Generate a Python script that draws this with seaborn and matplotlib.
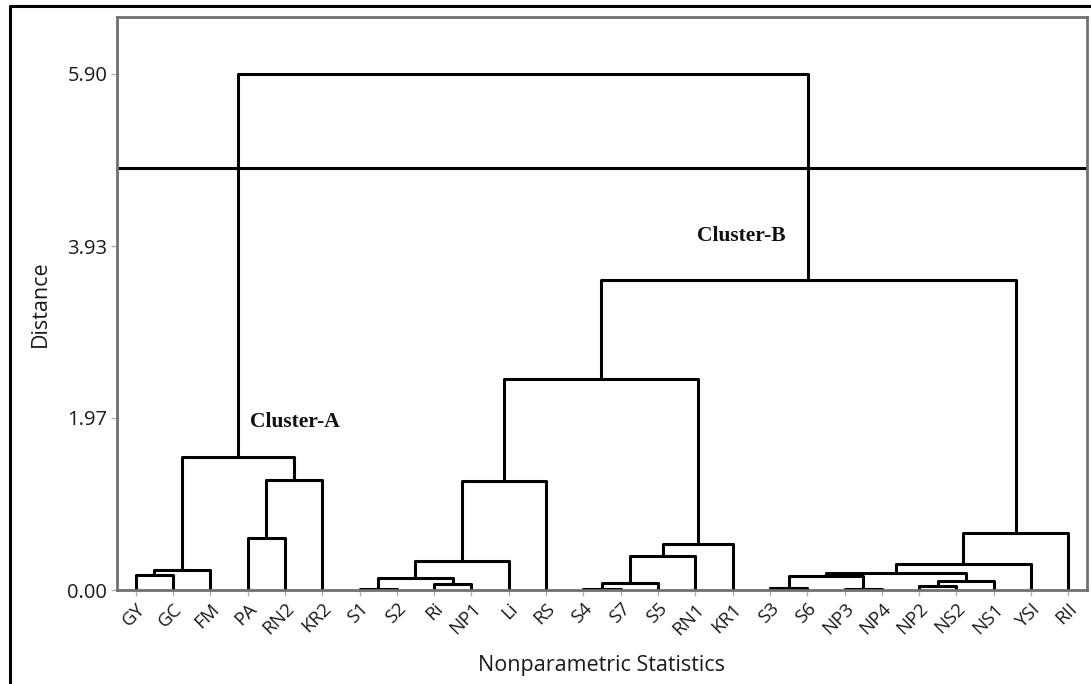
import numpy as np
import pandas as pd
import matplotlib
matplotlib.use("Agg")
import matplotlib.pyplot as plt
from matplotlib.lines import Line2D
import seaborn as sns

sns.set_style("ticks")
plt.rcParams['font.family'] = ['Open Sans', 'DejaVu Sans']

# leaves in dendrogram order
leaves = ["GY", "GC", "FM", "PA", "RN2", "KR2", "S1", "S2", "Ri", "NP1", "Li", "RS",
          "S4", "S7", "S5", "RN1", "KR1", "S3", "S6", "NP3", "NP4", "NP2", "NS2", "NS1",
          "YSI", "RII"]

# merges: cluster c<i> is formed by merge_left[i] + merge_right[i] at merge_height[i]
merge_left = ["GY", "c0", "PA", "c2", "c1",
              "S1", "Ri", "c5", "c7", "c8",
              "S4", "c10", "c11", "c12", "c9",
              "S3", "NP3", "c15", "NP2", "c18", "c17", "c20", "c21",
              "c14", "c4"]
merge_right = ["GC", "FM", "RN2", "KR2", "c3",
               "S2", "NP1", "c6", "Li", "RS",
               "S7", "S5", "RN1", "KR1", "c13",
               "S6", "NP4", "c16", "NS2", "NS1", "c19", "YSI", "RII",
               "c22", "c23"]
merge_height = [0.175, 0.23, 0.60, 1.26, 1.52,
                0.01, 0.065, 0.14, 0.335, 1.25,
                0.01, 0.083, 0.39, 0.526, 2.41,
                0.02, 0.006, 0.163, 0.05, 0.10, 0.20, 0.30, 0.65,
                3.545, 5.90]

cut_height = 4.82
y_ticks = [0.00, 1.97, 3.93, 5.90]

# build link segments
pos = {name: 5 + 10 * i for i, name in enumerate(leaves)}
hgt = {name: 0.0 for name in leaves}
rows = []
for i, (l, r, h) in enumerate(zip(merge_left, merge_right, merge_height)):
    xs = [pos[l], pos[l], pos[r], pos[r]]
    ys = [hgt[l], h, h, hgt[r]]
    for k, (x, y) in enumerate(zip(xs, ys)):
        rows.append({"link": i, "order": k, "x": x, "y": y})
    pos[f"c{i}"] = (pos[l] + pos[r]) / 2
    hgt[f"c{i}"] = h
df = pd.DataFrame(rows)

fig = plt.figure(figsize=(10.91, 6.84), dpi=100)
ax = fig.add_axes([117 / 1091, 1 - 590 / 684, 970 / 1091, 573 / 684])

sns.lineplot(data=df, x="x", y="y", units="link", estimator=None, sort=False,
             color="black", lw=2.2, ax=ax, legend=False)
ax.axhline(cut_height, color="black", lw=2.2)

ax.set_xlim(0, 10 * len(leaves))
ax.set_ylim(0, 6.55)
ax.set_xticks([5 + 10 * i for i in range(len(leaves))])
ax.set_xticklabels(leaves, rotation=45, ha="right", rotation_mode="anchor",
                   fontsize=13.5, color="#1a1a1a")
ax.set_yticks(y_ticks)
ax.set_yticklabels([f"{v:.2f}" for v in y_ticks], fontsize=14.5, color="#1a1a1a")
ax.tick_params(axis="both", length=4, width=1, color="#b0b0b0", pad=3)

for s in ax.spines.values():
    s.set_visible(True)
    s.set_color("#707070")
    s.set_linewidth(2)

ax.set_xlabel("Nonparametric Statistics", fontsize=15.5, color="#1a1a1a", labelpad=12)
ax.set_ylabel("Distance", fontsize=15.5, color="#1a1a1a", labelpad=12)

ax.text(35.6, 1.92, "Cluster-A", family="Liberation Serif", fontweight="bold",
        fontsize=15.5, ha="left", va="center", color="#111111")
ax.text(155.5, 4.05, "Cluster-B", family="Liberation Serif", fontweight="bold",
        fontsize=15.5, ha="left", va="center", color="#111111")

# outer frame (left and top edges visible)
fig.add_artist(Line2D([10 / 1091, 10 / 1091], [0, 1 - 6 / 684],
                      transform=fig.transFigure, color="black", lw=2.2))
fig.add_artist(Line2D([10 / 1091, 1], [1 - 6 / 684, 1 - 6 / 684],
                      transform=fig.transFigure, color="black", lw=2.2))

fig.savefig("out.png", dpi=100)
